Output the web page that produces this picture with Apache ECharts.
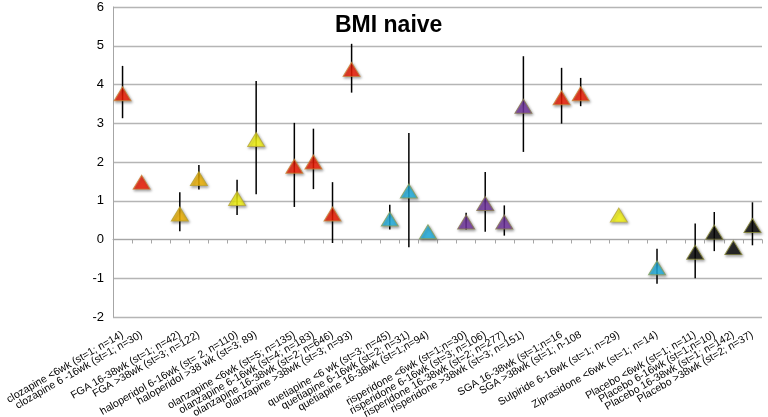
<!DOCTYPE html>
<html>
<head>
<meta charset="utf-8">
<script src="https://cdn.jsdelivr.net/npm/echarts@6/dist/echarts.min.js"></script>
<style>html,body{margin:0;padding:0;background:#fff}#c{width:768px;height:417px}</style>
</head>
<body>
<div id="c"></div>
<script>
const categories = [
  'clozapine <6wk (st=1; n=14)', 'clozapine 6 -16wk (st=1; n=30)', '',
  'FGA 16-38wk (st=1; n=42)', 'FGA >38wk (st=3; n=122)', '',
  'haloperidol 6-16wk (st= 2, n=110)', 'haloperidol >38 wk (st=3; 89)', '',
  'olanzapine <6wk (st=5; n=135)', 'olanzapine 6-16wk (st=4; n=183)', 'olanzapine 16-38wk (st=2; n=646)', 'olanzapine >38wk (st=3; n=93)', '',
  'quetiapine <6 wk (st=3; n=45)', 'quetiapine 6-16wk (st=2; n=31)', 'quetiapine 16-38wk (st=1;n=94)', '',
  'risperidone <6wk (st=1;n=30)', 'risperidone 6-16wk (st=3; n=106)', 'risperidone 16-38wk (st=2; n=277)', 'risperidone >38wk (st=3; n=151)', '',
  'SGA 16-38wk (st=1;n=16', 'SGA >38wk (st=1; n-108', '',
  'Sulpiride 6-16wk (st=1; n=29)', '',
  'Ziprasidone <6wk (st=1; n=14)', '',
  'Placebo <6wk (st=1; n=11)', 'Placebo 6-16wk (st=1;n=10)', 'Placebo 16-38wk (st=1; n=142)', 'Placebo >38wk (st=2; n=37)'
];
const means = [3.76, 1.48, null, 0.66, 1.57, null, 1.06, 2.58, null, 1.89, 2.0, 0.66, 4.39, null,
  0.53, 1.25, 0.20, null, 0.45, 0.93, 0.45, 3.44, null, 3.66, 3.76, null, 0.63, null, -0.73, null,
  -0.33, 0.19, -0.21, 0.36];
const lower = [3.13, null, null, 0.21, 1.29, null, 0.63, 1.17, null, 0.84, 1.30, -0.09, 3.79, null,
  0.26, -0.20, null, null, 0.26, 0.20, 0.10, 2.26, null, 2.99, 3.44, null, null, null, -1.14, null,
  -1.0, -0.30, null, -0.15];
const upper = [4.48, null, null, 1.22, 1.92, null, 1.54, 4.09, null, 3.01, 2.86, 1.48, 5.05, null,
  0.90, 2.75, null, null, 0.69, 1.74, 0.88, 4.73, null, 4.43, 4.17, null, null, null, -0.24, null,
  0.41, 0.71, null, 0.96];
const groups = ['red', 'red', '', 'orange', 'orange', '', 'yellow', 'yellow', '', 'red', 'red', 'red', 'red', '',
  'cyan', 'cyan', 'cyan', '', 'purple', 'purple', 'purple', 'purple', '', 'red', 'red', '', 'yellow', '', 'cyan', '',
  'black', 'black', 'black', 'black'];
const yTicks = { min: -2, max: 6, interval: 1 };

const palette = {
  red: ['#f51a00', '#c9883a'],
  orange: ['#f7b800', '#b8a02a'],
  yellow: ['#ffff10', '#b6a63a'],
  cyan: ['#1fb4e6', '#8aa05a'],
  purple: ['#7434a4', '#8a7a50'],
  black: ['#050505', '#8a8a3a']
};

const scatterData = [];
const errData = [];
means.forEach((v, i) => {
  if (v === null) return;
  const p = palette[groups[i]];
  scatterData.push({ value: [i, v], itemStyle: { color: p[0], borderColor: p[1] } });
  if (lower[i] !== null && upper[i] !== null) errData.push([i, lower[i], upper[i]]);
});

const chart = echarts.init(document.getElementById('c'), null, { renderer: 'canvas' });
chart.setOption({
  animation: false,
  title: {
    text: 'BMI naive', left: 330, top: 9,
    textStyle: { fontFamily: 'Liberation Sans', fontWeight: 'bold', fontSize: 23, color: '#000' }
  },
  grid: { left: 113, right: 6, top: 7, bottom: 100, containLabel: false, outerBoundsMode: 'none' },
  xAxis: [
    {
      type: 'category', data: categories, position: 'bottom',
      axisLine: { show: false, onZero: false }, axisTick: { show: false },
      axisLabel: { interval: 0, rotate: 30, margin: 17, fontFamily: 'Liberation Sans', fontSize: 10.6, color: '#000' },
      splitLine: { show: false }
    },
    {
      type: 'category', data: categories, position: 'top',
      axisLine: { show: true, onZero: true, lineStyle: { color: '#a6a6a6', width: 1 } },
      axisTick: { show: true, inside: true, length: 4, interval: 0, lineStyle: { color: '#a6a6a6' } },
      axisLabel: { show: false }, splitLine: { show: false }
    }
  ],
  yAxis: {
    type: 'value', min: yTicks.min, max: yTicks.max, interval: yTicks.interval,
    axisLine: { show: true, lineStyle: { color: '#a6a6a6' } }, axisTick: { show: false },
    axisLabel: { margin: 9, fontFamily: 'Liberation Sans', fontSize: 13, color: '#000' },
    splitLine: { show: true, lineStyle: { color: '#b5b5b5', width: 1.3 } }
  },
  series: [
    {
      type: 'custom', xAxisIndex: 0, data: errData, z: 2,
      renderItem: (params, api) => {
        const a = api.coord([api.value(0), api.value(1)]);
        const b = api.coord([api.value(0), api.value(2)]);
        return { type: 'line', shape: { x1: a[0], y1: a[1], x2: b[0], y2: b[1] }, style: { stroke: '#000', lineWidth: 1.5 } };
      }
    },
    {
      type: 'scatter', xAxisIndex: 0, data: scatterData, z: 3,
      symbol: 'triangle', symbolSize: [17, 14],
      itemStyle: { borderWidth: 1, shadowBlur: 3, shadowColor: 'rgba(0,0,0,0.45)', shadowOffsetX: 1, shadowOffsetY: 1.5 }
    }
  ]
});
</script>
</body>
</html>
